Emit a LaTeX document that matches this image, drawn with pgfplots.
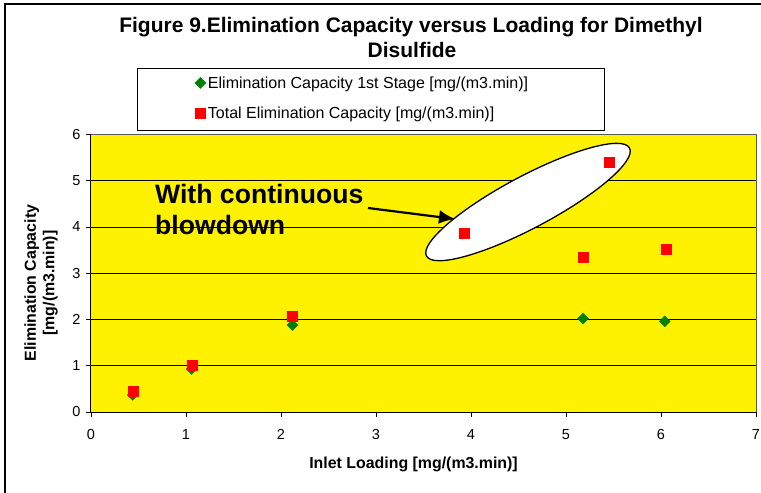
\documentclass[border=0pt]{standalone}
\usepackage{fontspec}
\setmainfont{Liberation Sans}
\usepackage{pgfplots}
\pgfplotsset{compat=1.18}
\usetikzlibrary{arrows.meta,shapes.geometric}
\definecolor{mygreen}{RGB}{0,128,0}
\begin{document}
\begin{tikzpicture}[x=1pt,y=1pt]
\useasboundingbox (0,0) rectangle (761,-493);
\draw[line width=1.2pt] (5,-493) -- (5,-4) -- (761,-4);
\node[font=\bfseries\fontsize{21}{24}\selectfont] at (411,-27) {Figure 9.Elimination Capacity versus Loading for Dimethyl};
\node[font=\bfseries\fontsize{21}{24}\selectfont] at (412,-50) {Disulfide};
\draw[fill=white, draw=black, line width=0.8pt] (137,-68) rectangle (604,-130);
\begin{axis}[
  at={(91pt,-412pt)}, anchor=south west,
  scale only axis, width=665pt, height=277.5pt,
  xmin=0, xmax=7, ymin=0, ymax=6,
  xtick={0,...,7}, ytick={0,...,6},
  axis lines*=left,
  axis line style={black, line width=1pt, -},
  tick align=outside, major tick length=5pt,
  tick style={black, line width=0.8pt},
  ymajorgrids, grid style={black, line width=0.9pt},
  axis background/.style={fill=yellow},
  tick label style={font=\fontsize{14.5}{16}\selectfont},
  xticklabel style={yshift=-9pt},
  yticklabel style={xshift=-2pt},
  /pgf/number format/assume math mode=true,
  xlabel={Inlet Loading [mg/(m3.min)]},
  ylabel={Elimination Capacity\\{}[mg/(m3.min)]},
  every axis x label/.style={at={(axis description cs:0.485,-0.19)}, anchor=center, font=\bfseries\fontsize{15.9}{18}\selectfont},
  every axis y label/.style={at={(axis description cs:-0.0752,0.465)}, anchor=center, rotate=90, align=center, font=\bfseries\fontsize{15.9}{18.5}\selectfont},
  legend style={at={(axis description cs:0.156,1.1315)}, anchor=west, draw=none, fill=none, inner sep=0pt, row sep=13pt, font=\fontsize{16}{18}\selectfont, cells={anchor=west}},
  legend image code/.code={\draw[#1] plot coordinates {(5pt,0pt)};},
  after end axis/.code={\draw[gray!70!black, line width=1pt] (rel axis cs:0,1) -- (rel axis cs:1,1) -- (rel axis cs:1,0);},
  clip=false,
]
\node[draw=black, line width=1.3pt, fill=white, ellipse, minimum width=230pt, minimum height=52pt, inner sep=0pt, rotate=28] at (axis cs:4.6,4.54) {};
\addplot[only marks, mark=square*, mark size=3.9pt, mark options={rotate=45, fill=mygreen, draw=mygreen}] coordinates {
(0.44,0.37) (1.06,0.93) (2.12,1.88) (5.18,2.02) (6.04,1.96)
};
\addlegendentry{Elimination Capacity 1st Stage [mg/(m3.min)]}
\addplot[only marks, mark=square*, mark size=5pt, mark options={fill=red, draw=red}] coordinates {
(0.44,0.45) (1.06,1.02) (2.12,2.07) (3.93,3.87) (5.18,3.35) (5.45,5.41) (6.05,3.53)
};
\addlegendentry{Total Elimination Capacity [mg/(m3.min)]}
\end{axis}
\node[anchor=base west, inner sep=0pt, font=\bfseries\fontsize{26.6}{31}\selectfont] at (155,-203) {With continuous};
\node[anchor=base west, inner sep=0pt, font=\bfseries\fontsize{26.6}{31}\selectfont] at (155,-234) {blowdown};
\draw[-{Latex[length=16pt,width=14pt]}, line width=2.2pt] (368,-208) -- (455,-219);
\end{tikzpicture}
\end{document}
